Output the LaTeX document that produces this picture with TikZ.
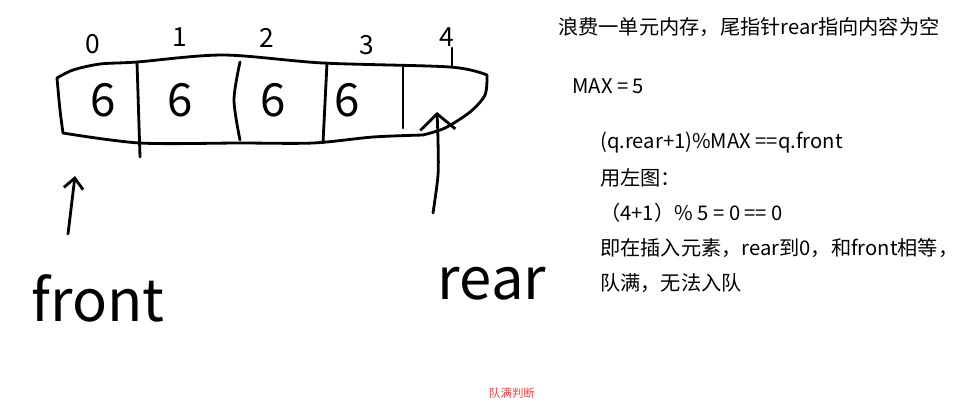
\documentclass[tikz,border=0pt]{standalone}
\usepackage{fontspec}
\setmainfont{Noto Sans CJK SC}
\usetikzlibrary{arrows.meta}
\definecolor{capred}{RGB}{240,70,70}
\tikzset{
	hand/.style={line width=1.6pt,line cap=round,line join=round},
	note/.style={anchor=west,inner sep=0pt,font=\fontsize{11.5}{13}\selectfont},
	idx/.style={inner sep=0pt,font=\fontsize{15}{16}\selectfont},
	val/.style={inner sep=0pt,font=\fontsize{26}{28}\selectfont},
	ptr/.style={inner sep=0pt,font=\fontsize{33}{35}\selectfont},
}
\begin{document}
\begin{tikzpicture}[x=0.02cm,y=-0.02cm,>={Straight Barb[length=6pt,width=11pt]}]
\useasboundingbox (0,0) rectangle (962,410);
% the array, drawn by hand
\draw[hand] plot[smooth] coordinates {(57,78) (73,70) (100,64) (137,62) (223,55) (323,63) (450,67) (487,75)};
\draw[hand] plot[smooth] coordinates {(57,78) (60,110) (63,133)};
\draw[hand] plot[smooth] coordinates {(63,133) (140,143) (240,143) (313,143) (373,137) (423,135)};
\draw[hand] plot[smooth] coordinates {(487,75) (485,95) (470,112) (445,128) (423,135)};
\draw[hand] (137,62) -- (140,157);
\draw[hand] plot[smooth] coordinates {(240,62) (234,100) (240,140)};
\draw[hand] (327,63) -- (323,143);
\draw[hand] (403,67) -- (403,128);
\draw[hand] (452,48) -- (452,67);
% indices and values
\node[idx] (i0) at (93,44) {0};
\node[idx] (i1) at (180,37) {1};
\node[idx] (i2) at (267,38) {2};
\node[idx] (i3) at (367,45) {3};
\node[idx] (i4) at (447,37) {4};
\node[val] (v0) at (103,100) {6};
\node[val] (v1) at (180,100) {6};
\node[val] (v2) at (273,100) {6};
\node[val] (v3) at (347,100) {6};
% pointers
\node[ptr] (front) at (98,298) {front};
\node[ptr] (rear) at (492,284) {rear};
\coordinate (fbase) at (68,234);
\coordinate (ftip) at (75,176);
\coordinate (rbase) at (433,213);
\coordinate (rtip) at (437,112);
\draw[hand,->] (fbase) -- (ftip);
\draw[hand,-{Straight Barb[length=9pt,width=20pt]}] plot[smooth] coordinates {(rbase) (438,175) (438,140) (rtip)};
% notes
\node[note] (n1) at (558,27) {浪费一单元内存，尾指针rear指向内容为空};
\node[note] (n2) at (572,86) {MAX = 5};
\node[note] (n3) at (600,143) {(q.rear+1)\%MAX ==q.front};
\node[note] (n4) at (600,178) {用左图：};
\node[note] (n5) at (600,213) {（4+1）\% 5 = 0 == 0};
\node[note] (n6) at (600,248) {即在插入元素，rear到0，和front相等，};
\node[note] (n7) at (600,283) {队满，无法入队};
\node[text=capred,inner sep=0pt,font=\fontsize{6.5}{7}\selectfont] (cap) at (512,393) {队满判断};
\end{tikzpicture}
\end{document}
